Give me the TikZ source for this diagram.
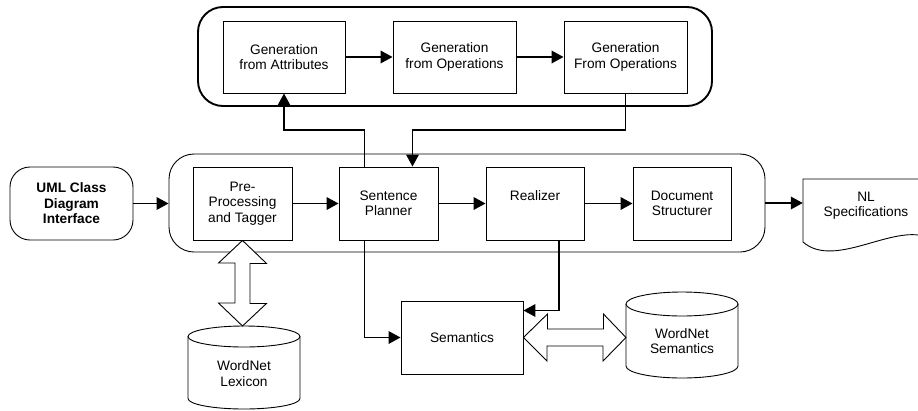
\documentclass[tikz,border=0pt]{standalone}
\usepackage{fontspec}
\setmainfont{Liberation Sans}
\usetikzlibrary{arrows.meta,calc}
\begin{document}
\begin{tikzpicture}[x=1pt,y=-1pt,
  font=\fontsize{13.7}{15.5}\selectfont,
  box/.style={draw, line width=0.9pt, inner sep=0pt, minimum width=99pt, minimum height=73pt, align=center},
  arr/.style={line width=1.9pt, -{Triangle[length=12pt,width=12.5pt]}},
  hollow/.style={draw, line width=0.9pt, fill=white, line join=miter},
  thin line/.style={line width=0.9pt}]
\useasboundingbox (0,0) rectangle (918,410);
\clip (0,0) rectangle (918,410);

% containers
\node[draw, line width=1.9pt, rounded corners=25pt, minimum width=514pt, minimum height=99pt, inner sep=0pt] (Top) at (455,56.5) {};
\node[draw, line width=0.9pt, rounded corners=25pt, minimum width=596pt, minimum height=98pt, inner sep=0pt] (Main) at (467,203) {};

% generation boxes
\node[box, minimum width=122pt, minimum height=72pt] (G1) at (284,57) {Generation\\from Attributes};
\node[box, minimum width=123pt, minimum height=72pt] (G2) at (454.5,57) {Generation\\from Operations};
\node[box, minimum width=123pt, minimum height=72pt] (G3) at (625.5,57) {Generation\\From Operations};

% main row
\node[box, rounded corners=20pt, minimum width=123pt, font=\fontsize{13.7}{15.5}\selectfont\bfseries] (UML) at (71.5,203.5) {UML Class\\Diagram\\Interface};
\node[box] (Pre) at (242.5,203.5) {Pre-\\Processing\\and Tagger};
\node[box] (SP) at (388.5,203.5) {Sentence\\Planner};
\node[box, minimum width=98pt] (R) at (535,203.5) {Realizer\\~};
\node[box, minimum width=98pt] (D) at (682,203.5) {Document\\Structurer};
\node[box, minimum width=122pt] (Sem) at (462,337.5) {Semantics};

% NL specifications (document shape)
\draw[thin line] (803,242) -- (803,179) -- (930,179) -- (930,238) -- (929,238)
  .. controls (895,222) and (835,270) .. (803,242);
\node[inner sep=0pt, minimum width=126pt, align=center] (NL) at (866,205.5) {NL\\Specifications};

% cylinders
\draw[thin line] (188,336.5) -- (188,398.5) arc[start angle=180, end angle=360, x radius=56pt, y radius=10.5pt] -- (300,336.5);
\draw[thin line] (244,336.5) ellipse[x radius=56pt, y radius=10.5pt];
\node[align=center] (Lex) at (244,373.5) {WordNet\\Lexicon};
\coordinate (LexTop) at (242.5,326);

\draw[thin line] (626,304) -- (626,366) arc[start angle=180, end angle=360, x radius=56pt, y radius=12pt] -- (738,304);
\draw[thin line] (682,304) ellipse[x radius=56pt, y radius=12pt];
\node[align=center] (WS) at (682,341) {WordNet\\Semantics};
\coordinate (WSLeft) at (626,337.5);

% connectors
\coordinate (upY) at (0,130);
\draw[arr] (G1) -- (G2);
\draw[arr] (G2) -- (G3);
\draw[arr] (UML.east) -- (UML.east -| Main.west);
\draw[arr] (Pre) -- (SP);
\draw[arr] (SP) -- (R);
\draw[arr] (R) -- (D);
\draw[arr] (Main.east) -- (Main.east -| NL.west);
\draw[arr] ([xshift=-24pt]SP.north) -- ([xshift=-24pt]SP.north |- upY) -| (G1.south);
\draw[arr] (G3.south) -- (G3.south |- upY) -| ([xshift=24pt]SP.north);
\draw[arr] ([xshift=-24pt]SP.south) |- (Sem.west);
\draw[arr] ([xshift=24pt]R.south) |- ([yshift=27pt]Sem.east);

% hollow double arrows
\draw[hollow] (Pre.south) -- ++(24,23) -- ++(-16.5,0) -- ++(0,40) -- ++(16.5,0) -- (LexTop)
  -- ++(-24,-23) -- ++(16.5,0) -- ++(0,-40) -- ++(-16.5,0) -- cycle;
\draw[hollow] (Sem.east) -- ++(24,-23.5) -- ++(0,15) -- ++(56,0) -- ++(0,-15) -- (WSLeft)
  -- ++(-23,23.5) -- ++(0,-15) -- ++(-56,0) -- ++(0,15) -- cycle;
\end{tikzpicture}
\end{document}
